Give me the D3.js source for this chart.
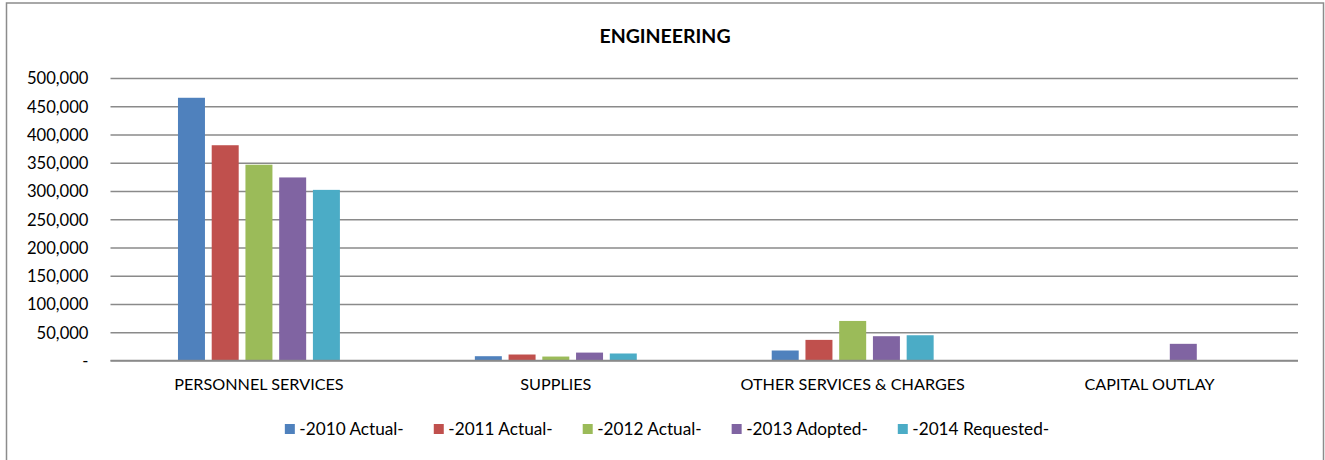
<!DOCTYPE html>
<html>
<head>
<meta charset="utf-8">
<script src="https://cdn.jsdelivr.net/npm/d3@7"></script>
<style>
  html, body { margin: 0; padding: 0; background: #fff; }
  svg { display: block; }
  text { font-family: Lato, "Open Sans", sans-serif; fill: #000; }
</style>
</head>
<body>
<svg id="chart" width="1325" height="460"></svg>
<script>
const title = "ENGINEERING";
const categories = ["PERSONNEL SERVICES", "SUPPLIES", "OTHER SERVICES & CHARGES", "CAPITAL OUTLAY"];
const seriesNames = ["-2010 Actual-", "-2011 Actual-", "-2012 Actual-", "-2013 Adopted-", "-2014 Requested-"];
const seriesColors = ["#4F81BD", "#C0504D", "#9BBB59", "#8064A2", "#4BACC6"];
const actual2010 = [465000, 7600, 17700, 0];
const actual2011 = [381000, 10600, 36500, 0];
const actual2012 = [346500, 7000, 70000, 0];
const adopted2013 = [324000, 14000, 43000, 29500];
const requested2014 = [302000, 12400, 44700, 0];
const seriesValues = [actual2010, actual2011, actual2012, adopted2013, requested2014];
const yTicks = [0, 50000, 100000, 150000, 200000, 250000, 300000, 350000, 400000, 450000, 500000];

const svg = d3.select("#chart");
const plot = { left: 110.5, right: 1298, top: 78, bottom: 360.5 };
const FONT = "Lato, 'Open Sans', sans-serif";

// chart border
svg.append("rect")
  .attr("x", 6.5).attr("y", 3).attr("width", 1317).attr("height", 470)
  .attr("fill", "none").attr("stroke", "#8c8c8c").attr("stroke-width", 1.5);

svg.append("text")
  .attr("x", 665).attr("y", 43)
  .attr("text-anchor", "middle")
  .style("font-weight", "bold").style("font-size", "19.5px")
  .text(title);

const y = d3.scaleLinear().domain([0, 500000]).range([plot.bottom, plot.top]);
const x0 = d3.scaleBand().domain(categories).range([plot.left, plot.right]).padding(0);
const x1 = d3.scaleBand().domain(seriesNames).range([0, x0.bandwidth()])
  .paddingInner(0.2).paddingOuter(2.0);

// gridlines + y labels
const yAxis = d3.axisLeft(y).tickValues(yTicks)
  .tickSize(-(plot.right - plot.left))
  .tickFormat(d => d === 0 ? "-" : d3.format(",")(d));
const gy = svg.append("g").attr("transform", `translate(${plot.left},0)`).call(yAxis);
gy.select(".domain").remove();
gy.selectAll(".tick line").attr("stroke", "#8a8a8a").attr("stroke-width", 1.5);
gy.selectAll(".tick text")
  .attr("x", -22).attr("dy", "0.35em")
  .style("font-size", "16.6px").style("font-family", FONT).attr("fill", "#000");

// bars
const groups = svg.append("g").selectAll("g")
  .data(categories).join("g")
  .attr("transform", d => `translate(${x0(d)},0)`);
groups.selectAll("rect")
  .data((c, i) => seriesNames.map((s, j) => ({ s, j, v: seriesValues[j][i] })))
  .join("rect")
  .attr("x", d => x1(d.s))
  .attr("width", x1.bandwidth())
  .attr("y", d => y(d.v))
  .attr("height", d => Math.max(0, y(0) - y(d.v)))
  .attr("fill", d => seriesColors[d.j]);

// baseline
svg.append("line")
  .attr("x1", plot.left).attr("x2", plot.right)
  .attr("y1", y(0)).attr("y2", y(0))
  .attr("stroke", "#8a8a8a").attr("stroke-width", 1.5);

// category labels
const xAxis = d3.axisBottom(x0).tickSize(0).tickPadding(0);
const gx = svg.append("g").attr("transform", `translate(0,${plot.bottom})`).call(xAxis);
gx.select(".domain").remove();
gx.selectAll(".tick text")
  .attr("y", 29).attr("dy", 0)
  .style("font-size", "16.2px").style("font-family", FONT).attr("fill", "#000");

// legend
const legend = svg.append("g");
const items = legend.selectAll("g").data(seriesNames).join("g");
items.append("rect").attr("width", 10).attr("height", 10).attr("y", -5)
  .attr("fill", (d, i) => seriesColors[i]);
items.append("text").attr("x", 14.5).attr("y", 0).attr("dy", "0.36em")
  .style("font-size", "17.2px").text(d => d);
let xpos = 0;
items.each(function () {
  const g = d3.select(this);
  const w = 14.5 + g.select("text").node().getComputedTextLength();
  g.attr("transform", `translate(${xpos},0)`);
  xpos += w + 30;
});
const totalW = xpos - 30;
legend.attr("transform", `translate(${667 - totalW / 2},429)`);
</script>
</body>
</html>
